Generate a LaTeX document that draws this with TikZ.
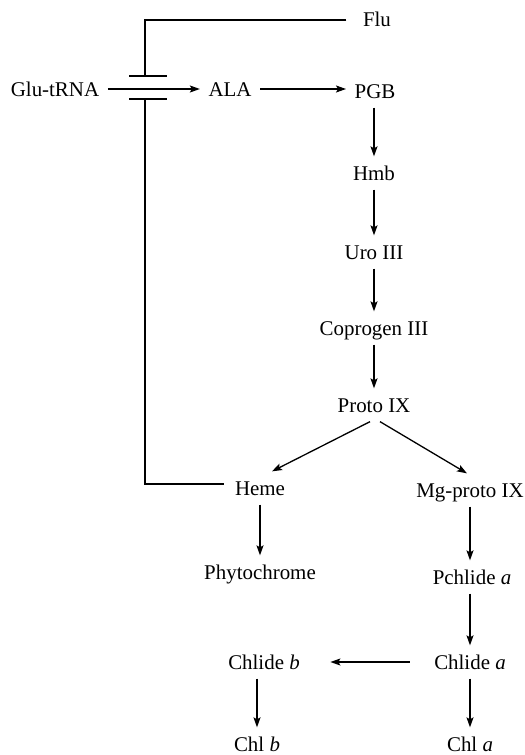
\documentclass[tikz,border=0pt]{standalone}
\usepackage{fontspec}
\setmainfont{Liberation Serif}
\usetikzlibrary{arrows.meta}

\begin{document}
\begin{tikzpicture}[x=1bp, y=-1bp, line width=1.3bp,
  every node/.style={font=\fontsize{21}{25}\selectfont, anchor=base,
    text height=14bp, text depth=0pt, inner xsep=8bp, inner ysep=9bp},
  arr/.style={-{Stealth[length=10bp,width=7bp,inset=2bp]}}]
\useasboundingbox (0,0) rectangle (525,755);
%
\node (flu)   at (377,27)  {Flu};
\node (glu)   at (55,96)   {Glu-tRNA};
\node (ala)   at (230,96)  {ALA};
\node (pgb)   at (375,98)  {PGB};
\node (hmb)   at (374,180) {Hmb};
\node (uro)   at (374,259) {Uro III};
\node (cop)   at (374,335) {Coprogen III};
\node (proto) at (374,412) {Proto IX};
\node (heme)  at (260,495) {Heme};
\node (mg)    at (470,497) {Mg-proto IX};
\node (phy)   at (260,579) {Phytochrome};
\node (pch)   at (472,584) {Pchlide \textit{a}};
\node (clb)   at (264,669) {Chlide \textit{b}};
\node (cla)   at (470,669) {Chlide \textit{a}};
\node (chb)   at (257,751) {Chl \textit{b}};
\node (cha)   at (470,751) {Chl \textit{a}};
%
\coordinate (barT) at (145,76);
\coordinate (barB) at (145,99);
\draw ([xshift=-16bp]barT) -- ([xshift=22bp]barT);
\draw ([xshift=-16bp]barB) -- ([xshift=22bp]barB);
\draw ([xshift=-8bp]flu.west) -| (barT);
\draw (barB) |- ([xshift=-2bp,yshift=4bp]heme.west);
%
\draw[arr] (glu.east) -- (ala.west);
\draw[arr] (ala.east) -- (ala.east -| pgb.west);
\draw[arr] (hmb.north |- pgb.south) -- (hmb.north);
\draw[arr] (hmb.south) -- (uro.north);
\draw[arr] (uro.south) -- (cop.north);
\draw[arr] (cop.south) -- (proto.north);
\draw[arr] ([xshift=-4bp]proto.south) -- ([xshift=12bp]heme.north);
\draw[arr] ([xshift=6bp]proto.south) -- ([xshift=-3bp]mg.north);
\draw[arr] (heme.south) -- (phy.north);
\draw[arr] (mg.south) -- (mg.south |- pch.north);
\draw[arr] (cla.north |- pch.south) -- (cla.north);
\draw[arr] ([xshift=-16bp]cla.west) -- ([xshift=22bp]clb.east);
\draw[arr] (chb.north |- clb.south) -- (chb.north);
\draw[arr] (cla.south) -- (cha.north);
%
\end{tikzpicture}
\end{document}
